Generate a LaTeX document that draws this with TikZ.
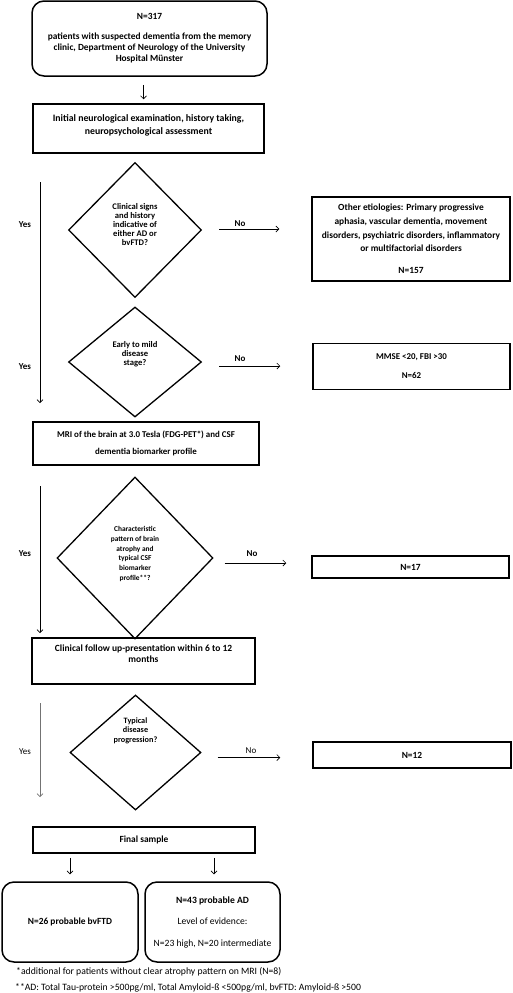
\documentclass[tikz,border=0pt]{standalone}
\usepackage{fontspec}
\setmainfont{Carlito}
\usetikzlibrary{shapes.geometric,arrows.meta}
\begin{document}
\begin{tikzpicture}[x=1pt,y=-1pt,
  box/.style={draw, line width=1.5pt, align=center, inner sep=2pt,
    font=\bfseries\fontsize{9.4}{13}\selectfont},
  rbox/.style={box, rounded corners=12pt},
  dia/.style={diamond, draw, line width=1.3pt, inner sep=0pt},
  dtext/.style={align=center, inner sep=0pt, font=\bfseries\fontsize{8.6}{9}\selectfont},
  arr/.style={line width=0.7pt, -{Straight Barb[length=3pt,width=6pt]}},
  lbl/.style={inner sep=0pt, font=\bfseries\fontsize{9}{10}\selectfont},
  note/.style={inner sep=0pt, anchor=west, font=\fontsize{9.7}{11}\selectfont}
]
\useasboundingbox (0,0) rectangle (512,993);

% top
\node[rbox, minimum width=235pt, minimum height=75pt,
  font=\bfseries\fontsize{9.4}{11}\selectfont] (top) at (149.5,38.5)
  {N=317\\[9pt]patients with suspected dementia from the memory\\clinic, Department of Neurology of the University\\Hospital Münster};
\node[box, minimum width=231pt, minimum height=49pt,
  font=\bfseries\fontsize{9.8}{13}\selectfont] (exam) at (148.5,128.5)
  {Initial neurological examination, history taking,\\neuropsychological assessment\\[-5pt]\mbox{}};
\draw[arr, shorten <=8pt, shorten >=4pt] ([xshift=-6pt]top.south) -- ([xshift=-5pt]exam.north);

% decision 1
\node[dia, minimum width=133pt, minimum height=135pt] (d1) at (135,230) {};
\node[dtext] (t1) at ([yshift=5.5pt]d1.center)
  {Clinical signs\\and history\\indicative of\\either AD or\\bvFTD?};
\node[box, minimum width=198pt, minimum height=84pt,
  font=\bfseries\fontsize{9.4}{13.7}\selectfont] (o1) at (411,239)
  {Other etiologies: Primary progressive\\aphasia, vascular dementia, movement\\disorders, psychiatric disorders, inflammatory\\or multifactorial disorders\\[8pt]N=157};
\draw[arr, shorten <=17pt, shorten >=32pt] ([yshift=1pt]d1.east) -- ([yshift=1pt]d1.east -| o1.west);
\node[lbl] (no1) at (240,224) {No};

% decision 2
\node[dia, minimum width=133pt, minimum height=110pt] (d2) at (135,362) {};
\node[dtext] (t2) at ([yshift=8pt]d2.center) {Early to mild\\disease\\stage?};
\node[box, minimum width=197pt, minimum height=46pt,
  font=\bfseries\fontsize{8.9}{10}\selectfont] (o2) at (411.5,366.5)
  {MMSE <20, FBI >30\\[9pt]N=62};
\draw[arr, shorten <=17pt, shorten >=32pt] ([yshift=-4pt]d2.east) -- ([yshift=-4pt]d2.east -| o2.west);
\node[lbl] (no2) at (240,359) {No};

% yes 1-2
\coordinate (ya1) at (40,182);
\coordinate (yb1) at (40,403);
\draw[arr] (ya1) -- (yb1);
\node[lbl] (yes1) at (25,225) {Yes};
\node[lbl] (yes2) at (25,367) {Yes};

% MRI
\node[box, minimum width=226pt, minimum height=43pt,
  font=\bfseries\fontsize{8.9}{17}\selectfont] (mri) at (146,443.5)
  {MRI of the brain at 3.0 Tesla (FDG-PET*) and CSF\\dementia biomarker profile};

% decision 3
\node[dia, minimum width=156pt, minimum height=162pt] (d3) at (135,558) {};
\node[dtext, font=\bfseries\fontsize{7.4}{9.7}\selectfont] (t3) at ([yshift=4pt]d3.center)
  {Characteristic\\pattern of brain\\atrophy and\\typical CSF\\biomarker\\profile**?};
\node[box, minimum width=197pt, minimum height=22pt] (o3) at (410.5,567) {N=17};
\draw[arr, shorten <=11pt, shorten >=25pt] ([yshift=-5pt]d3.east) -- ([yshift=-5pt]d3.east -| o3.west);
\node[lbl] (no3) at (252,554) {No};
\coordinate (ya3) at (40,486);
\coordinate (yb3) at (40,633);
\draw[arr] (ya3) -- (yb3);
\node[lbl] (yes3) at (25,554) {Yes};

% follow-up
\node[box, minimum width=223pt, minimum height=46pt,
  font=\bfseries\fontsize{9.5}{11}\selectfont] (fu) at (143.5,661)
  {Clinical follow up-presentation within 6 to 12\\months\\[4pt]\mbox{}};

% decision 4
\node[dia, minimum width=131pt, minimum height=115pt] (d4) at (135.5,752.5) {};
\node[dtext, font=\bfseries\fontsize{8.2}{9.5}\selectfont] (t4) at ([yshift=22pt]d4.center)
  {Typical\\disease\\progression?};
\node[box, minimum width=198pt, minimum height=26pt] (o4) at (412,755) {N=12};
\draw[arr, shorten <=16pt, shorten >=32pt] ([yshift=-5pt]d4.east) -- ([yshift=-5pt]d4.east -| o4.west);
\node[lbl, font=\fontsize{9}{10}\selectfont] (no4) at (251,751) {No};
\coordinate (ya4) at (40,703);
\coordinate (yb4) at (40,797);
\draw[arr, draw=black!55] (ya4) -- (yb4);
\node[lbl, font=\fontsize{9}{10}\selectfont] (yes4) at (25,752) {Yes};

% final
\node[box, minimum width=222pt, minimum height=26pt] (fs) at (144,840) {Final sample};
\node[rbox, minimum width=136pt, minimum height=80pt] (bv) at (70,922) {N=26 probable bvFTD};
\node[rbox, minimum width=135pt, minimum height=80pt,
  font=\fontsize{9.6}{21.5}\selectfont] (ad) at (212.5,922)
  {\textbf{N=43 probable AD}\\Level of evidence:\\N=23 high, N=20 intermediate};
\draw[arr, shorten <=4pt, shorten >=7pt] (fs.south -| bv.north) -- (bv.north);
\draw[arr, shorten <=4pt, shorten >=7pt] ([xshift=1.5pt]fs.south -| ad.north) -- ([xshift=1.5pt]ad.north);

% notes
\node[note] (n1) at (16,972) {*additional for patients without clear atrophy pattern on MRI (N=8)};
\node[note] (n2) at (15,988) {**AD: Total Tau-protein >500pg/ml, Total Amyloid-ß <500pg/ml, bvFTD: Amyloid-ß >500};
\end{tikzpicture}
\end{document}
